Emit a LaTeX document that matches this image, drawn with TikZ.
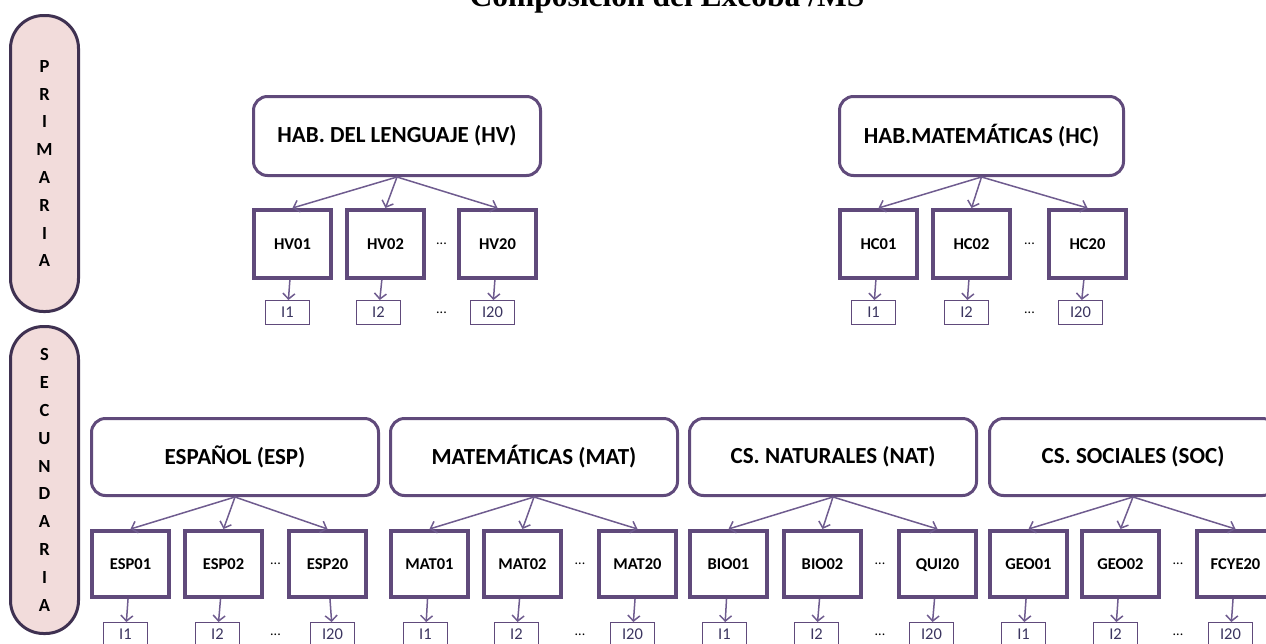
\documentclass[tikz,border=0pt]{standalone}
\usepackage{fontspec}
\setmainfont{Carlito}
\newfontfamily\titlefont{Liberation Serif}
\usetikzlibrary{positioning, arrows.meta, calc}
\definecolor{boxCol}{HTML}{604A7B}
\definecolor{levelCol}{HTML}{3F3151}
\definecolor{levelFill}{HTML}{F2DCDB}
\definecolor{arrowCol}{HTML}{6F5C8F}
\definecolor{itemText}{HTML}{3B3560}

\begin{document}
\begin{tikzpicture}[
    x=1pt, y=-1pt,
    % Node styles
    level/.style={
        rectangle,
        rounded corners=33pt,
        draw=levelCol,
        fill=levelFill,
        line width=3pt,
        minimum width=68pt,
        align=center,
        font=\fontsize{18.5}{27.8}\selectfont\bfseries
    },
    area/.style={
        rectangle,
        rounded corners=14pt,
        draw=boxCol,
        line width=3pt,
        minimum width=287pt,
        minimum height=#1,
        anchor=north west,
        font=\fontsize{23}{25}\selectfont\bfseries
    },
    subject/.style={
        rectangle,
        draw=boxCol,
        line width=4pt,
        minimum width=77pt,
        minimum height=#1,
        text height=11pt,
        text depth=1pt,
        font=\fontsize{16.5}{18}\selectfont\bfseries
    },
    item/.style={
        rectangle,
        draw=boxCol,
        line width=1.3pt,
        minimum width=43.7pt,
        minimum height=23.7pt,
        inner sep=0pt,
        text=itemText,
        font=\fontsize{16.5}{18}\selectfont
    },
    gap/.style={
        font=\fontsize{14}{15}\selectfont,
        inner sep=0pt
    },
    arrow/.style={
        -{Straight Barb[length=5.5pt, width=12pt]},
        line width=1.5pt,
        draw=arrowCol
    }
]
\useasboundingbox (0,0) rectangle (1266,643);

    % ==== TITLE ====
    \node[font=\titlefont\bfseries\fontsize{31.5}{33}\selectfont, anchor=base, inner sep=0pt] (title) at (667,6) {Composición del Excoba /MS};

    % ==== LEVELS ====
    \node[level, minimum height=296pt] (prim) at (44.5,163.5) {P\\R\\I\\M\\A\\R\\I\\A};
    \node[level, minimum height=307pt] (sec) at (44.5,480) {S\\E\\C\\U\\N\\D\\A\\R\\I\\A};

    % ==== PRIMARIA: HAB. DEL LENGUAJE ====
    \node[area=79pt] (hv) at (252,95) {HAB. DEL LENGUAJE (HV)};
    \node[subject=68pt, below right=31pt and 0pt of hv.south west] (hv01) {HV01};
    \node[subject=68pt, right=12pt of hv01] (hv02) {HV02};
    \node[subject=68pt, right=31pt of hv02] (hv20) {HV20};
    \node[gap] (dotshv) at ($(hv02.east)!.5!(hv20.west)$) {...};
    \node[item, below=20pt of hv01, xshift=-5pt] (ihv1) {I1};
    \node[item, below=20pt of hv02, xshift=-7pt] (ihv2) {I2};
    \node[item, below=20pt of hv20, xshift=-5pt] (ihv20) {I20};
    \node[gap] (idotshv) at (dotshv |- ihv20) {...};

    % ==== PRIMARIA: HAB. MATEMATICAS ====
    \node[area=79pt, minimum width=284pt] (hc) at (838,95) {HAB.MATEMÁTICAS (HC)};
    \node[subject=68pt, below right=31pt and 0pt of hc.south west] (hc01) {HC01};
    \node[subject=68pt, right=12pt of hc01] (hc02) {HC02};
    \node[subject=68pt, right=35pt of hc02] (hc20) {HC20};
    \node[gap] (dotshc) at ($(hc02.east)!.5!(hc20.west)$) {...};
    \node[item, below=20pt of hc01, xshift=-5pt] (ihc1) {I1};
    \node[item, below=20pt of hc02, xshift=-5pt] (ihc2) {I2};
    \node[item, below=20pt of hc20, xshift=-7pt] (ihc20) {I20};
    \node[gap] (idotshc) at (dotshc |- ihc20) {...};

    % ==== SECUNDARIA: ESPANOL ====
    \node[area=77pt] (esp) at (90,417) {ESPAÑOL (ESP)};
    \node[subject=66pt, below right=32pt and 0pt of esp.south west] (esp01) {ESP01};
    \node[subject=66pt, right=12pt of esp01] (esp02) {ESP02};
    \node[subject=66pt, right=23pt of esp02] (esp20) {ESP20};
    \node[gap] (dotsesp) at ($(esp02.east)!.5!(esp20.west)$) {...};
    \node[item, below=23pt of esp01, xshift=-5pt] (iesp1) {I1};
    \node[item, below=23pt of esp02, xshift=-6pt] (iesp2) {I2};
    \node[item, below=23pt of esp20, xshift=5pt] (iesp20) {I20};
    \node[gap] (idotsesp) at (dotsesp |- iesp20) {...};

    % ==== SECUNDARIA: MATEMATICAS ====
    \node[area=77pt] (mat) at (389,417) {MATEMÁTICAS (MAT)};
    \node[subject=66pt, below right=32pt and 0pt of mat.south west] (mat01) {MAT01};
    \node[subject=66pt, right=12pt of mat01] (mat02) {MAT02};
    \node[subject=66pt, right=34pt of mat02] (mat20) {MAT20};
    \node[gap] (dotsmat) at ($(mat02.east)!.5!(mat20.west)$) {...};
    \node[item, below=23pt of mat01, xshift=-4pt] (imat1) {I1};
    \node[item, below=23pt of mat02, xshift=-6pt] (imat2) {I2};
    \node[item, below=23pt of mat20, xshift=-5pt] (imat20) {I20};
    \node[gap] (idotsmat) at (dotsmat |- imat20) {...};

    % ==== SECUNDARIA: CS. NATURALES ====
    \node[area=77pt] (nat) at (688,417) {CS. NATURALES (NAT)};
    \node[subject=66pt, below right=32pt and 0pt of nat.south west] (bio01) {BIO01};
    \node[subject=66pt, right=13pt of bio01] (bio02) {BIO02};
    \node[subject=66pt, right=34pt of bio02] (qui20) {QUI20};
    \node[gap] (dotsnat) at ($(bio02.east)!.5!(qui20.west)$) {...};
    \node[item, below=23pt of bio01, xshift=-4pt] (inat1) {I1};
    \node[item, below=23pt of bio02, xshift=-6pt] (inat2) {I2};
    \node[item, below=23pt of qui20, xshift=-6pt] (inat20) {I20};
    \node[gap] (idotsnat) at (dotsnat |- inat20) {...};

    % ==== SECUNDARIA: CS. SOCIALES ====
    \node[area=77pt] (soc) at (988,417) {CS. SOCIALES (SOC)};
    \node[subject=66pt, below right=32pt and 0pt of soc.south west] (geo01) {GEO01};
    \node[subject=66pt, right=11pt of geo01] (geo02) {GEO02};
    \node[subject=66pt, right=34pt of geo02] (fcye20) {FCYE20};
    \node[gap] (dotssoc) at ($(geo02.east)!.5!(fcye20.west)$) {...};
    \node[item, below=23pt of geo01, xshift=-5pt] (isoc1) {I1};
    \node[item, below=23pt of geo02, xshift=-5pt] (isoc2) {I2};
    \node[item, below=23pt of fcye20, xshift=-5pt] (isoc20) {I20};
    \node[gap] (idotssoc) at (dotssoc |- isoc20) {...};

    % ==== CONNECTIONS ====

    % Areas -> subjects
    \draw[arrow] (hv.south) -- (hv01.north);
    \draw[arrow] (hv.south) -- (hv02.north);
    \draw[arrow] (hv.south) -- (hv20.north);
    \draw[arrow] (hc.south) -- (hc01.north);
    \draw[arrow] (hc.south) -- (hc02.north);
    \draw[arrow] (hc.south) -- (hc20.north);
    \draw[arrow] (esp.south) -- (esp01.north);
    \draw[arrow] (esp.south) -- (esp02.north);
    \draw[arrow] (esp.south) -- (esp20.north);
    \draw[arrow] (mat.south) -- (mat01.north);
    \draw[arrow] (mat.south) -- (mat02.north);
    \draw[arrow] (mat.south) -- (mat20.north);
    \draw[arrow] (nat.south) -- (bio01.north);
    \draw[arrow] (nat.south) -- (bio02.north);
    \draw[arrow] (nat.south) -- (qui20.north);
    \draw[arrow] (soc.south) -- (geo01.north);
    \draw[arrow] (soc.south) -- (geo02.north);
    \draw[arrow] (soc.south) -- (fcye20.north);

    % Subjects -> items
    \draw[arrow] (hv01) -- (ihv1);
    \draw[arrow] (hv02) -- (ihv2);
    \draw[arrow] (hv20) -- (ihv20);
    \draw[arrow] (hc01) -- (ihc1);
    \draw[arrow] (hc02) -- (ihc2);
    \draw[arrow] (hc20) -- (ihc20);
    \draw[arrow] (esp01) -- (iesp1);
    \draw[arrow] (esp02) -- (iesp2);
    \draw[arrow] (esp20) -- (iesp20);
    \draw[arrow] (mat01) -- (imat1);
    \draw[arrow] (mat02) -- (imat2);
    \draw[arrow] (mat20) -- (imat20);
    \draw[arrow] (bio01) -- (inat1);
    \draw[arrow] (bio02) -- (inat2);
    \draw[arrow] (qui20) -- (inat20);
    \draw[arrow] (geo01) -- (isoc1);
    \draw[arrow] (geo02) -- (isoc2);
    \draw[arrow] (fcye20) -- (isoc20);

\end{tikzpicture}
\end{document}
